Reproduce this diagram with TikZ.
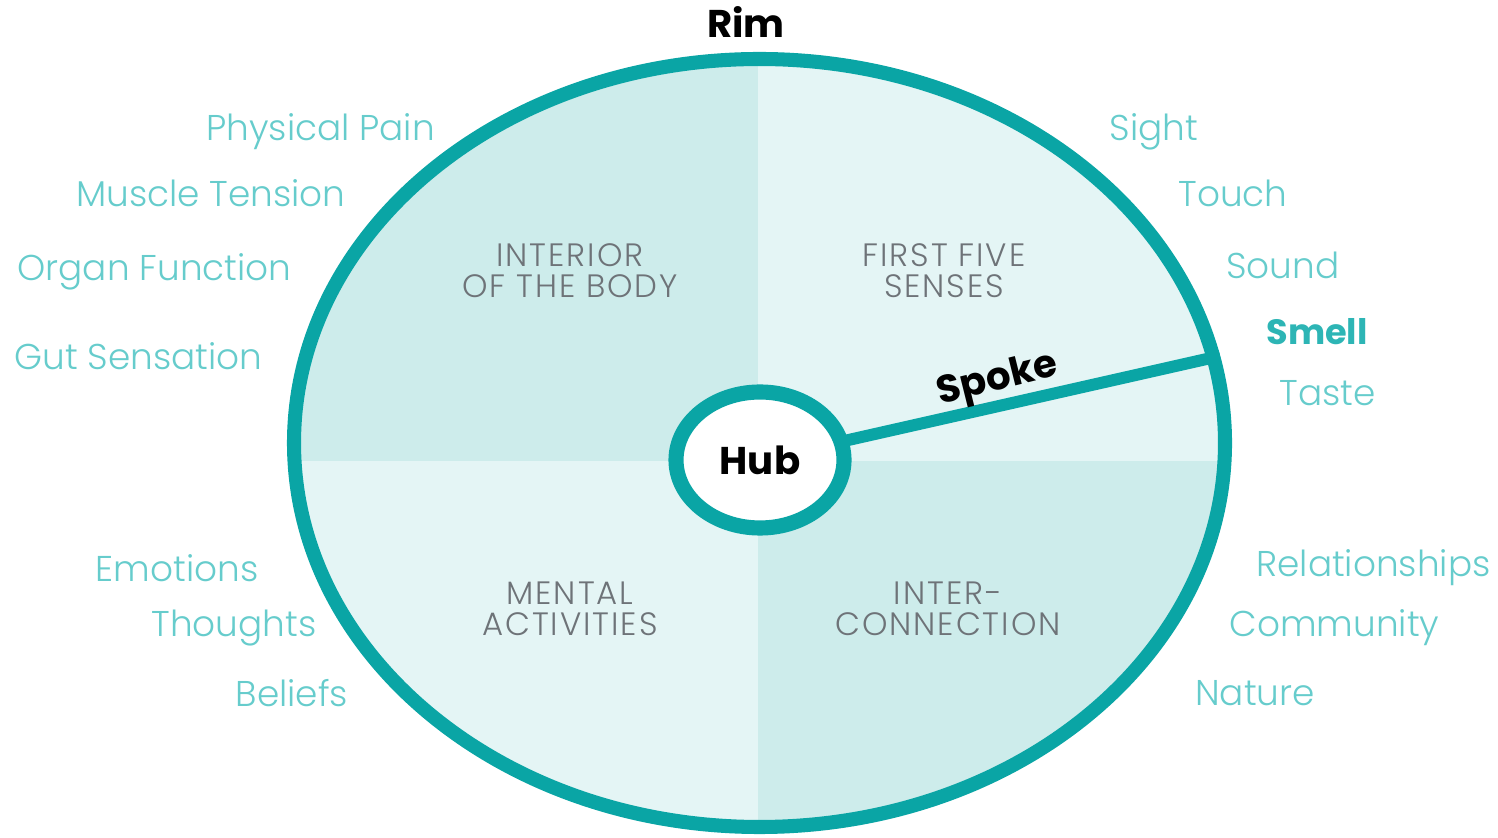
\documentclass[tikz,border=0pt]{standalone}
\usepackage{fontspec}
\setmainfont{Poppins}
\newfontfamily\lightfont{Poppins Light}
\newfontfamily\quadfont[LetterSpace=6]{Poppins Light}
\usetikzlibrary{shapes.geometric}

\definecolor{rimteal}{HTML}{0AA5A5}
\definecolor{darkpane}{HTML}{CDECEB}
\definecolor{lightpane}{HTML}{E4F5F5}
\definecolor{labelteal}{HTML}{66CCCC}
\definecolor{smellteal}{HTML}{2DB5B5}
\definecolor{quadgray}{HTML}{6E7378}

\begin{document}
\begin{tikzpicture}[
    item/.style={text=labelteal, font=\lightfont\fontsize{10.2}{12}\selectfont},
    area/.style={text=quadgray, align=center, font=\quadfont\fontsize{9.2}{8.8}\selectfont},
    tag/.style={font=\bfseries\fontsize{11}{13}\selectfont}
]
    \useasboundingbox (0, 0) rectangle (14.98, 8.37);
    % the four panes of the wheel
    \begin{scope}
        \clip (7.595, 3.94) ellipse [x radius=4.655, y radius=3.84];
        \fill[darkpane] (2.9, 3.76) rectangle (7.58, 8);
        \fill[lightpane] (7.58, 3.76) rectangle (12.3, 8);
        \fill[lightpane] (2.9, 3.76) rectangle (7.58, 0);
        \fill[darkpane] (7.58, 3.76) rectangle (12.3, 0);
    \end{scope}
    \coordinate (hubc) at (7.6, 3.77);
    \coordinate (spokeend) at (12.2, 4.81);
    \draw[rimteal, line width=3.4pt] (hubc) -- (spokeend);
    \draw[rimteal, line width=4pt] (7.595, 3.94) ellipse [x radius=4.655, y radius=3.84];
    \node[tag] (rim) at (7.46, 8.15) {Rim};
    \node[tag, ellipse, draw=rimteal, line width=4.3pt, fill=white, inner sep=0,
        minimum width=1.68cm, minimum height=1.36cm] (hub) at (hubc) {Hub};
    \node[tag, rotate=14] (spoke) at (9.98, 4.56) {Spoke};

    \node[area] (body) at (5.70, 5.66) {INTERIOR\\OF THE BODY};
    \node[area] (senses) at (9.44, 5.66) {FIRST FIVE\\SENSES};
    \node[area] (mental) at (5.70, 2.28) {MENTAL\\ACTIVITIES};
    \node[area] (inter) at (9.48, 2.28) {INTER-\\CONNECTION};

    % body side
    \node[item] (pain) at (3.205, 7.05) {Physical Pain};
    \node[item] (muscle) at (2.11, 6.44) {Muscle Tension};
    \node[item] (organ) at (1.545, 5.65) {Organ Function};
    \node[item] (gut) at (1.385, 4.81) {Gut Sensation};
    % mind side
    \node[item] (emotions) at (1.77, 2.69) {Emotions};
    \node[item] (thoughts) at (2.34, 2.09) {Thoughts};
    \node[item] (beliefs) at (2.92, 1.44) {Beliefs};
    % senses
    \node[item] (sight) at (11.54, 7.05) {Sight};
    \node[item] (touch) at (12.33, 6.44) {Touch};
    \node[item] (sound) at (12.83, 5.72) {Sound};
    \node[tag, text=smellteal, font=\bfseries\fontsize{10}{12}\selectfont] (smell) at (13.17, 5.05) {Smell};
    \node[item] (taste) at (13.275, 4.44) {Taste};
    % connection
    \node[item] (relations) at (13.735, 2.69) {Relationships};
    \node[item] (community) at (13.345, 2.09) {Community};
    \node[item] (nature) at (12.55, 1.44) {Nature};
\end{tikzpicture}
\end{document}
